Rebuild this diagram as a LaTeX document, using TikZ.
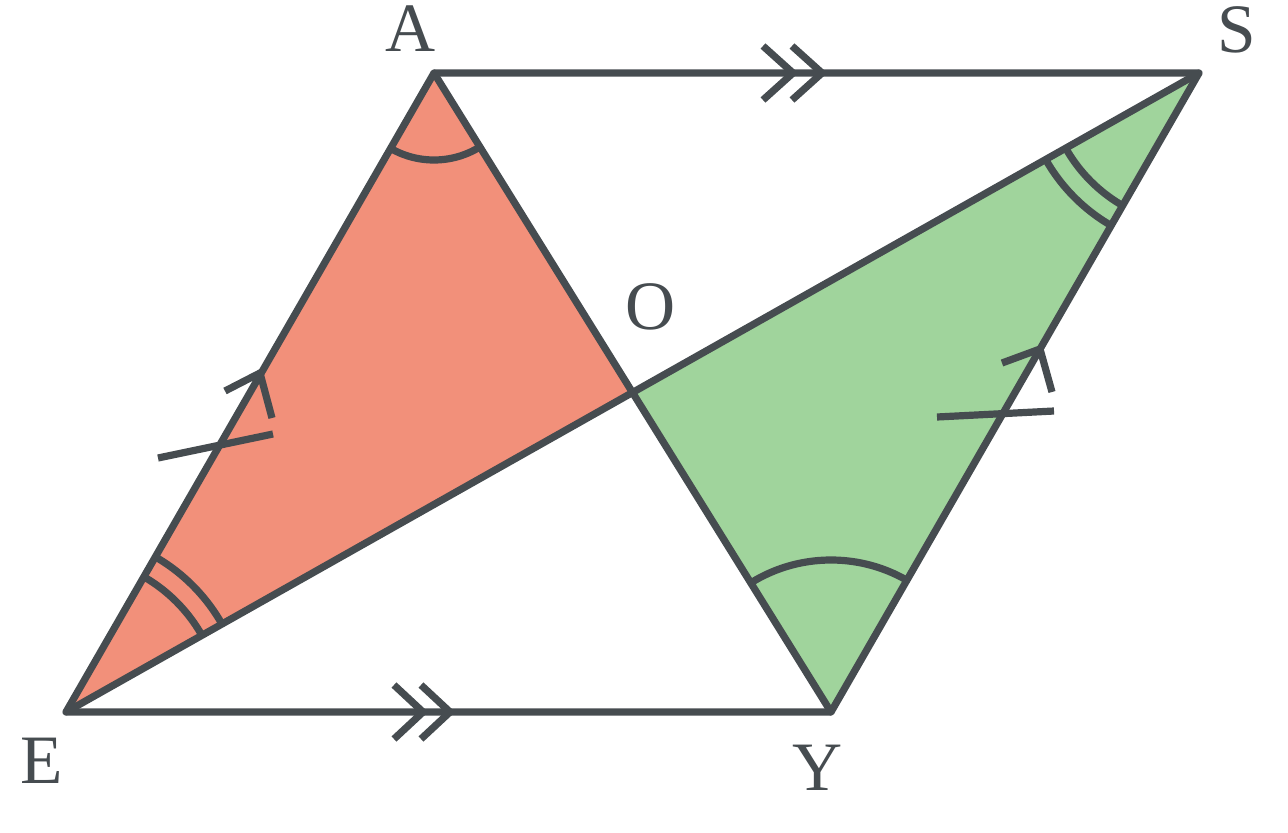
\documentclass[tikz,border=0pt]{standalone}
\usepackage{fontspec}
\setmainfont{Liberation Serif}
\usepackage{xcolor}
\usepackage{tikz}
\usetikzlibrary{calc}

\definecolor{edgegrey}{RGB}{70,76,80}
\definecolor{salmonfill}{RGB}{242,144,122}
\definecolor{greenfill}{RGB}{160,212,156}

\tikzset{
  edge/.style={draw=edgegrey, line width=5.4pt, line join=round, line cap=round},
  tickmark/.style={draw=edgegrey, line width=5.4pt, line join=miter, line cap=butt},
  vlabel/.style={inner sep=0pt, text=edgegrey, font=\fontsize{52}{60}\selectfont}
}

\begin{document}
\begin{tikzpicture}[x=0.75pt,y=0.75pt,yscale=-1,xscale=1]
\useasboundingbox (0,0) rectangle (1288,832);

% vertices
\coordinate (A) at (434,73);
\coordinate (S) at (1199,73);
\coordinate (Y) at (831,712);
\coordinate (E) at (66,712);
\coordinate (O) at ($(A)!0.5!(Y)$);

%Shape: Triangle AEO
\fill [salmonfill] (A) -- (E) -- (O) -- cycle;
%Shape: Triangle SOY
\fill [greenfill] (S) -- (O) -- (Y) -- cycle;

%Angle arcs in AEO
\begin{scope}
\clip (A) -- (E) -- (O) -- cycle;
\draw [tickmark] (A) circle [radius=87];
\draw [tickmark] (E) circle [radius=156];
\draw [tickmark] (E) circle [radius=179];
\end{scope}
%Angle arcs in SOY
\begin{scope}
\clip (S) -- (O) -- (Y) -- cycle;
\draw [tickmark] (S) circle [radius=153];
\draw [tickmark] (S) circle [radius=176];
\draw [tickmark] (Y) circle [radius=152];
\end{scope}

%Straight Lines
\draw [edge] (A) -- (S) -- (Y) -- (E) -- cycle;
\draw [edge] (A) -- (Y);
\draw [edge] (E) -- (S);

%Double chevrons on AS and EY
\draw [tickmark] (763,46) -- (793,73) -- (763,100);
\draw [tickmark] (792,46) -- (822,73) -- (792,100);
\draw [tickmark] (394,685) -- (423,712) -- (394,739);
\draw [tickmark] (421,685) -- (450,712) -- (421,739);

%Single chevron and tick on AE
\draw [tickmark] (225,391) -- (260,373) -- (272,418);
\draw [tickmark] (158,458) -- (273,434);
%Single chevron and tick on SY
\draw [tickmark] (1002,363) -- (1040,349) -- (1052,392);
\draw [tickmark] (937,417) -- (1054,411);

% Text Node
\node [vlabel] (labA) at (411,29) {A};
% Text Node
\node [vlabel] (labS) at (1237,30) {S};
% Text Node
\node [vlabel] (labO) at (651,307) {O};
% Text Node
\node [vlabel] (labE) at (42,761) {E};
% Text Node
\node [vlabel] (labY) at (818,768) {Y};

\end{tikzpicture}
\end{document}
